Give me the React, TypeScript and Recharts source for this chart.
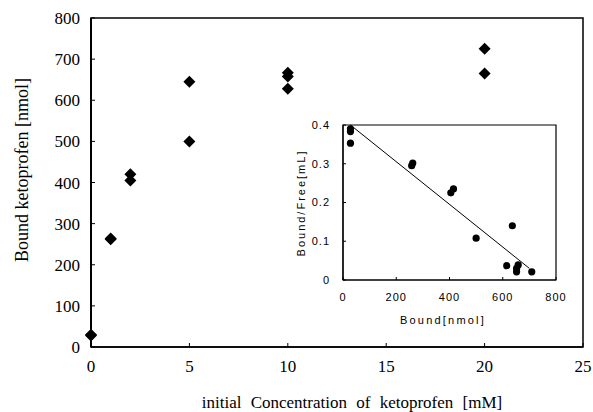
import {
  ScatterChart,
  Scatter,
  XAxis,
  YAxis,
  ReferenceArea,
  ReferenceLine,
  Label,
} from "recharts"

// main plot: initial concentration (mM) vs bound ketoprofen (nmol)
const concentration = [0, 0, 1, 1, 2, 2, 5, 5, 10, 10, 10, 20, 20]
const boundAmount = [28, 30, 262, 264, 420, 405, 645, 500, 667, 658, 628, 725, 665]
const xTicks = [0, 5, 10, 15, 20, 25]
const yTicks = [0, 100, 200, 300, 400, 500, 600, 700, 800]

// inset: Scatchard plot, bound (nmol) vs bound/free (mL)
const scatchardBound = [28, 28, 28, 258, 262, 405, 415, 500, 636, 615, 652, 652, 658, 709]
const scatchardRatio = [0.39, 0.383, 0.353, 0.295, 0.302, 0.225, 0.235, 0.108, 0.14, 0.037, 0.021, 0.03, 0.039, 0.021]
const fitBound = [28, 700]
const fitRatio = [0.4, 0.03]
const insetXTicks = [0, 200, 400, 600, 800]
const insetYTicks = [0, 0.1, 0.2, 0.3, 0.4]

const mainData = concentration.map((x, i) => ({ x, y: boundAmount[i] }))
const insetData = scatchardBound.map((x, i) => ({ x, y: scatchardRatio[i] }))

const SERIF = "'Liberation Serif', 'DejaVu Serif', serif"
const SANS = "'Liberation Sans', Arial, sans-serif"

const Diamond = (props: any) => {
  const { cx, cy } = props
  const r = 6
  return (
    <polygon
      points={`${cx},${cy - r} ${cx + r},${cy} ${cx},${cy + r} ${cx - r},${cy}`}
      fill="#000"
    />
  )
}

const Dot = (props: any) => <circle cx={props.cx} cy={props.cy} r={3.6} fill="#000" />

export default function App() {
  return (
    <div
      style={{
        position: "absolute",
        left: 0,
        top: 0,
        width: 593,
        height: 412,
        background: "#fff",
      }}
    >
      <div style={{ position: "absolute", left: 0, top: 0 }}>
        <ScatterChart
          width={593}
          height={412}
          margin={{ top: 18, right: 10, bottom: 25, left: 0 }}
        >
          <XAxis
            type="number"
            dataKey="x"
            domain={[0, 25]}
            ticks={xTicks}
            height={40}
            axisLine={{ stroke: "#000", strokeWidth: 1.5 }}
            tickLine={{ stroke: "#000" }}
            tickSize={-4}
            tickMargin={17}
            tick={{ fill: "#000", fontSize: 17, fontFamily: SERIF }}
          >
            <Label
              content={() => (
                <text
                  x={352}
                  y={402}
                  textAnchor="middle"
                  dominantBaseline="central"
                  fontSize={17}
                  fontFamily={SERIF}
                  wordSpacing={5}
                  fill="#000"
                >
                  initial Concentration of ketoprofen [mM]
                </text>
              )}
            />
          </XAxis>
          <YAxis
            type="number"
            dataKey="y"
            domain={[0, 800]}
            ticks={yTicks}
            width={91}
            axisLine={{ stroke: "#000", strokeWidth: 2 }}
            tickLine={{ stroke: "#000" }}
            tickSize={-4}
            tickMargin={15}
            tick={{ fill: "#000", fontSize: 17, fontFamily: SERIF }}
          >
            <Label
              content={() => (
                <text
                  x={22}
                  y={170}
                  transform="rotate(-90 22 170)"
                  textAnchor="middle"
                  dominantBaseline="central"
                  fontSize={18}
                  fontFamily={SERIF}
                  fill="#000"
                >
                  Bound ketoprofen [nmol]
                </text>
              )}
            />
          </YAxis>
          <ReferenceArea
            x1={0}
            x2={25}
            y1={0}
            y2={800}
            fill="none"
            stroke="#000"
            strokeWidth={1.5}
            ifOverflow="visible"
          />
          <Scatter data={mainData} shape={Diamond} isAnimationActive={false} />
        </ScatterChart>
      </div>

      <div style={{ position: "absolute", left: 295, top: 105 }}>
        <ScatterChart
          width={280}
          height={230}
          margin={{ top: 20, right: 19, bottom: 35, left: 0 }}
        >
          <XAxis
            type="number"
            dataKey="x"
            domain={[0, 800]}
            ticks={insetXTicks}
            height={20}
            axisLine={{ stroke: "#000", strokeWidth: 1.2 }}
            tickLine={{ stroke: "#000" }}
            tickSize={-3}
            tickMargin={16}
            tick={{ fill: "#000", fontSize: 11, fontFamily: SANS, letterSpacing: 1 }}
          >
            <Label
              content={() => (
                <text
                  x={148}
                  y={215}
                  textAnchor="middle"
                  dominantBaseline="central"
                  fontSize={11}
                  fontFamily={SANS}
                  letterSpacing={2.2}
                  fill="#000"
                >
                  Bound[nmol]
                </text>
              )}
            />
          </XAxis>
          <YAxis
            type="number"
            dataKey="y"
            domain={[0, 0.4]}
            ticks={insetYTicks}
            width={48}
            axisLine={{ stroke: "#000", strokeWidth: 1.2 }}
            tickLine={{ stroke: "#000" }}
            tickSize={-3}
            tickMargin={16}
            tickFormatter={(v: number) => (v === 0 ? "0" : v.toFixed(1))}
            tick={{ fill: "#000", fontSize: 11, fontFamily: SANS, letterSpacing: 1 }}
          >
            <Label
              content={() => (
                <text
                  x={6}
                  y={98}
                  transform="rotate(-90 6 98)"
                  textAnchor="middle"
                  dominantBaseline="central"
                  fontSize={11}
                  fontFamily={SANS}
                  letterSpacing={2}
                  fill="#000"
                >
                  Bound/Free[mL]
                </text>
              )}
            />
          </YAxis>
          <ReferenceArea
            x1={0}
            x2={800}
            y1={0}
            y2={0.4}
            fill="none"
            stroke="#000"
            strokeWidth={1.2}
            ifOverflow="visible"
          />
          <ReferenceLine
            segment={[
              { x: fitBound[0], y: fitRatio[0] },
              { x: fitBound[1], y: fitRatio[1] },
            ]}
            stroke="#000"
            strokeWidth={1}
          />
          <Scatter data={insetData} shape={Dot} isAnimationActive={false} />
        </ScatterChart>
      </div>
    </div>
  )
}
